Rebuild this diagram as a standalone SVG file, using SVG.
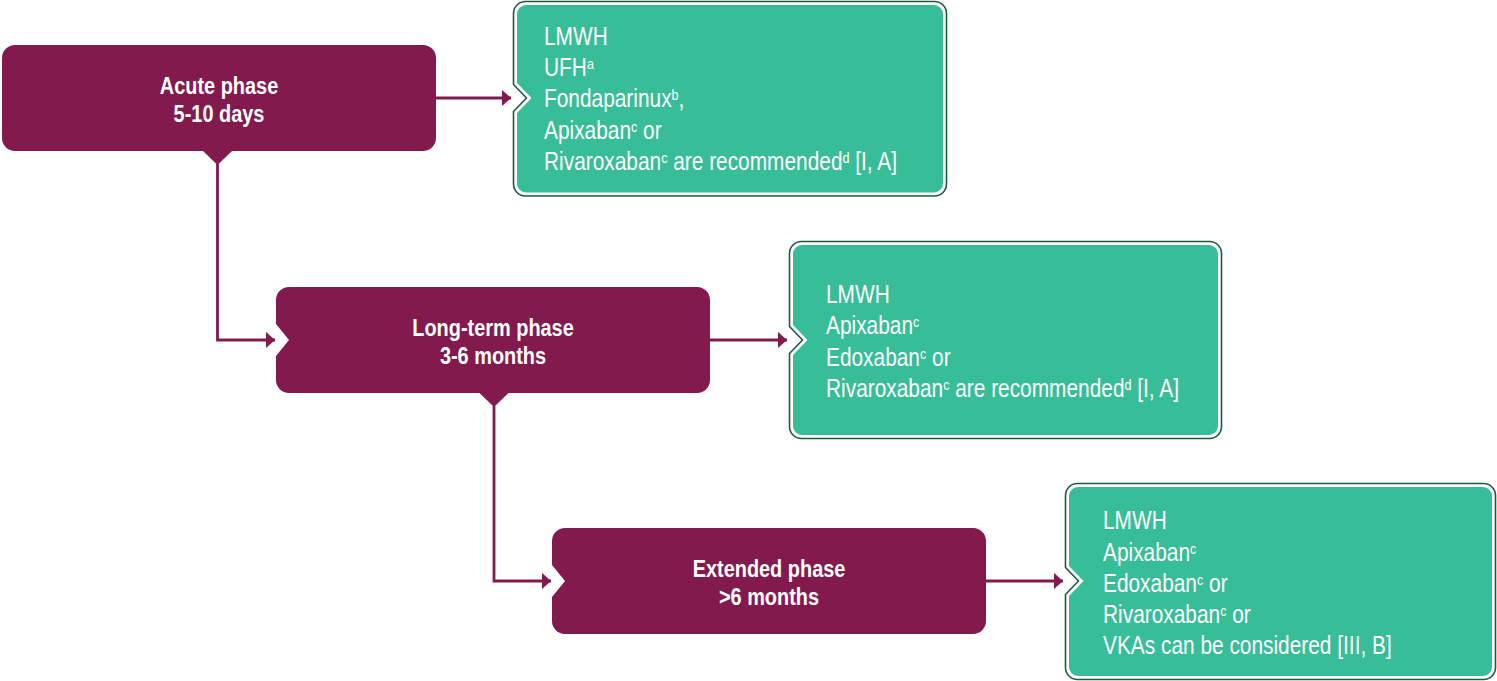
<svg xmlns="http://www.w3.org/2000/svg" width="1497" height="681" viewBox="0 0 1497 681">
<style>
.phase{fill:#821a4e}
.gout{fill:#ffffff;stroke:#1e5b3b;stroke-width:1.6}
.gin{fill:#37bd98}
.pt{font-family:"Liberation Sans",Arial,sans-serif;font-weight:bold;font-size:24px;fill:#ffffff;text-anchor:middle}
.gt{font-family:"Liberation Sans",Arial,sans-serif;font-size:25px;fill:#ffffff}
.sup{font-size:15px}
.conn{fill:none;stroke:#821a4e;stroke-width:2.8}
</style>
<defs>
<marker id="ah" markerUnits="userSpaceOnUse" markerWidth="10" markerHeight="18" refX="9.5" refY="8.5" orient="auto">
<path d="M0,0 L9.5,8.5 L0,17 Z" fill="#821a4e"/>
</marker>
</defs>
<g id="connectors">
<path class="conn" d="M436,98 H511" marker-end="url(#ah)"/>
<path class="conn" d="M710,340 H787" marker-end="url(#ah)"/>
<path class="conn" d="M986,581 H1063" marker-end="url(#ah)"/>
<path class="conn" d="M217.5,164 V340 H275" marker-end="url(#ah)"/>
<path class="conn" d="M494,406 V581 H551" marker-end="url(#ah)"/>
</g>
<g id="acute">
<path class="phase" d="M15,45 H423 A13,13 0 0 1 436,58 V138 A13,13 0 0 1 423,151 H232 L217.5,165 L203,151 H15 A13,13 0 0 1 2,138 V58 A13,13 0 0 1 15,45 Z"/>
<g transform="translate(219,0) scale(0.83,1)">
<text class="pt" x="0" y="94.3">Acute phase</text>
<text class="pt" x="0" y="121.7">5-10 days</text>
</g>
</g>
<g id="longterm">
<path class="phase" d="M289,287 H697 A13,13 0 0 1 710,300 V380 A13,13 0 0 1 697,393 H508.5 L494,407 L479.5,393 H289 A13,13 0 0 1 276,380 V356 L289,340 L276,324 V300 A13,13 0 0 1 289,287 Z"/>
<g transform="translate(493,0) scale(0.83,1)">
<text class="pt" x="0" y="336.3">Long-term phase</text>
<text class="pt" x="0" y="363.7">3-6 months</text>
</g>
</g>
<g id="extended">
<path class="phase" d="M565,528 H973 A13,13 0 0 1 986,541 V621 A13,13 0 0 1 973,634 H565 A13,13 0 0 1 552,621 V597 L565,581 L552,565 V541 A13,13 0 0 1 565,528 Z"/>
<g transform="translate(769,0) scale(0.83,1)">
<text class="pt" x="0" y="577.3">Extended phase</text>
<text class="pt" x="0" y="604.7">&gt;6 months</text>
</g>
</g>
<g id="acute-drugs">
<path class="gout" d="M525.5,1.5 H934.5 A12,12 0 0 1 946.5,13.5 V184 A12,12 0 0 1 934.5,196 H525.5 A12,12 0 0 1 513.5,184 V111.5 L526.5,98 L513.5,84.5 V13.5 A12,12 0 0 1 525.5,1.5 Z"/>
<path class="gin" d="M526,5 H934 A9,9 0 0 1 943,14 V183.5 A9,9 0 0 1 934,192.5 H526 A9,9 0 0 1 517,183.5 V113 L531.5,98 L517,83 V14 A9,9 0 0 1 526,5 Z"/>
<g transform="translate(544,0) scale(0.835,1)">
<text class="gt" x="0" y="45">LMWH</text>
<text class="gt" x="0" y="76.25">UFH<tspan class="sup" dy="-7">a</tspan></text>
<text class="gt" x="0" y="107.5">Fondaparinux<tspan class="sup" dy="-7">b</tspan><tspan dy="7">,</tspan></text>
<text class="gt" x="0" y="138.75">Apixaban<tspan class="sup" dy="-7">c</tspan><tspan dy="7"> or</tspan></text>
<text class="gt" x="0" y="170">Rivaroxaban<tspan class="sup" dy="-7">c</tspan><tspan dy="7"> are recommended</tspan><tspan class="sup" dy="-7">d</tspan><tspan dy="7"> [I, A]</tspan></text>
</g>
</g>
<g id="longterm-drugs">
<path class="gout" d="M801.5,241.5 H1209.5 A12,12 0 0 1 1221.5,253.5 V426.5 A12,12 0 0 1 1209.5,438.5 H801.5 A12,12 0 0 1 789.5,426.5 V353.5 L802.5,340 L789.5,326.5 V253.5 A12,12 0 0 1 801.5,241.5 Z"/>
<path class="gin" d="M802,245 H1209 A9,9 0 0 1 1218,254 V426 A9,9 0 0 1 1209,435 H802 A9,9 0 0 1 793,426 V355 L807.5,340 L793,325 V254 A9,9 0 0 1 802,245 Z"/>
<g transform="translate(826,0) scale(0.835,1)">
<text class="gt" x="0" y="303">LMWH</text>
<text class="gt" x="0" y="334.3">Apixaban<tspan class="sup" dy="-7">c</tspan></text>
<text class="gt" x="0" y="365.6">Edoxaban<tspan class="sup" dy="-7">c</tspan><tspan dy="7"> or</tspan></text>
<text class="gt" x="0" y="396.9">Rivaroxaban<tspan class="sup" dy="-7">c</tspan><tspan dy="7"> are recommended</tspan><tspan class="sup" dy="-7">d</tspan><tspan dy="7"> [I, A]</tspan></text>
</g>
</g>
<g id="extended-drugs">
<path class="gout" d="M1077.5,483.5 H1483.5 A12,12 0 0 1 1495.5,495.5 V667.5 A12,12 0 0 1 1483.5,679.5 H1077.5 A12,12 0 0 1 1065.5,667.5 V594.5 L1078.5,581 L1065.5,567.5 V495.5 A12,12 0 0 1 1077.5,483.5 Z"/>
<path class="gin" d="M1078,487 H1483 A9,9 0 0 1 1492,496 V667 A9,9 0 0 1 1483,676 H1078 A9,9 0 0 1 1069,667 V596 L1083.5,581 L1069,566 V496 A9,9 0 0 1 1078,487 Z"/>
<g transform="translate(1103,0) scale(0.835,1)">
<text class="gt" x="0" y="529.3">LMWH</text>
<text class="gt" x="0" y="560.6">Apixaban<tspan class="sup" dy="-7">c</tspan></text>
<text class="gt" x="0" y="591.9">Edoxaban<tspan class="sup" dy="-7">c</tspan><tspan dy="7"> or</tspan></text>
<text class="gt" x="0" y="623.2">Rivaroxaban<tspan class="sup" dy="-7">c</tspan><tspan dy="7"> or</tspan></text>
<text class="gt" x="0" y="654.5">VKAs can be considered [III, B]</text>
</g>
</g>
</svg>
